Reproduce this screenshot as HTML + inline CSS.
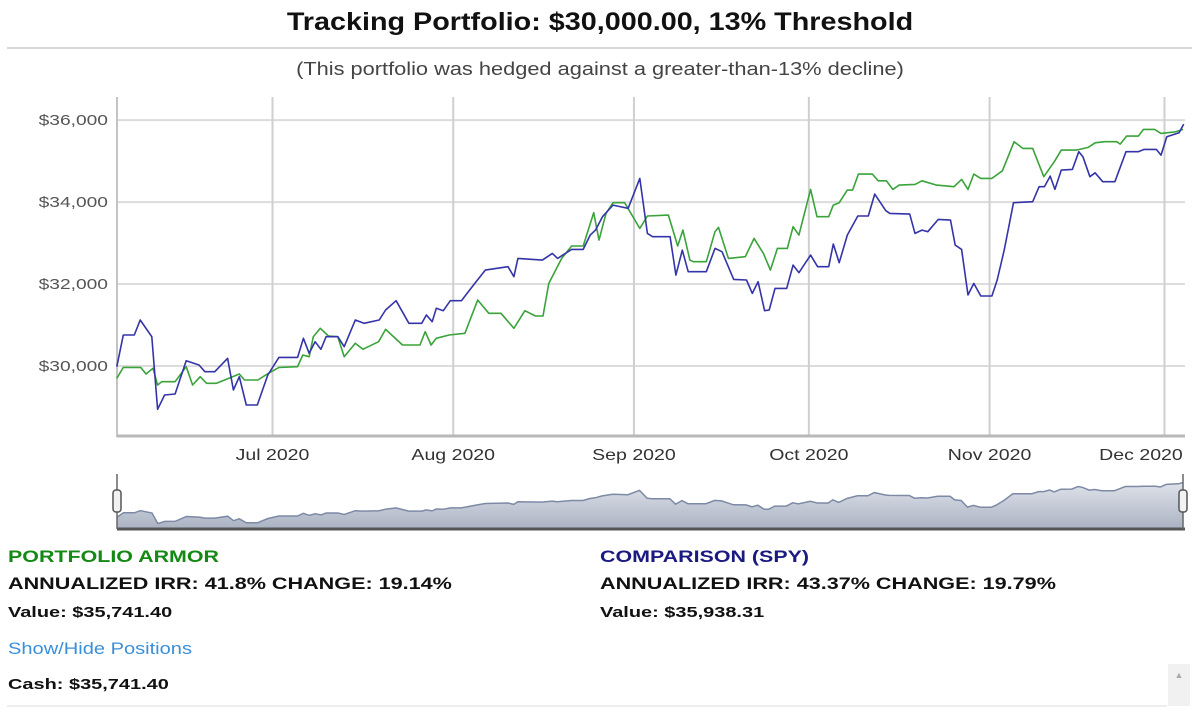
<!DOCTYPE html>
<html><head><meta charset="utf-8">
<style>
body{margin:0;width:1200px;height:709px;background:#fff;font-family:"Liberation Sans",Arial,sans-serif;position:relative;overflow:hidden}
.t{position:absolute;white-space:nowrap;transform-origin:0 0}
.c{transform-origin:50% 0}
</style></head>
<body>
<div class="t c" style="left:0;width:1200px;text-align:center;top:8px;font-size:25px;font-weight:bold;color:#111;transform:scaleX(1.15)">Tracking Portfolio: $30,000.00, 13% Threshold</div>
<div style="position:absolute;left:7px;width:1185px;top:47px;height:2px;background:#d8d8d8"></div>
<div class="t c" style="left:0;width:1200px;text-align:center;top:59px;font-size:18px;color:#444;transform:scaleX(1.21)">(This portfolio was hedged against a greater-than-13% decline)</div>
<svg id="chart" width="1200" height="545" style="position:absolute;left:0;top:0"></svg>
<div class="t" style="left:8px;top:547px;font-size:17px;font-weight:bold;color:#148a14;transform:scaleX(1.26)">PORTFOLIO ARMOR</div>
<div class="t" style="left:8px;top:574px;font-size:17px;font-weight:bold;color:#111;transform:scaleX(1.27)">ANNUALIZED IRR: 41.8% CHANGE: 19.14%</div>
<div class="t" style="left:8px;top:604px;font-size:15px;font-weight:bold;color:#111;transform:scaleX(1.33)">Value: $35,741.40</div>
<div class="t" style="left:600px;top:547px;font-size:17px;font-weight:bold;color:#1a1a80;transform:scaleX(1.26)">COMPARISON (SPY)</div>
<div class="t" style="left:600px;top:574px;font-size:17px;font-weight:bold;color:#111;transform:scaleX(1.27)">ANNUALIZED IRR: 43.37% CHANGE: 19.79%</div>
<div class="t" style="left:600px;top:604px;font-size:15px;font-weight:bold;color:#111;transform:scaleX(1.33)">Value: $35,938.31</div>
<div class="t" style="left:8px;top:639px;font-size:17px;color:#3a8fd8;cursor:pointer;transform:scaleX(1.18)">Show/Hide Positions</div>
<div class="t" style="left:8px;top:676px;font-size:15px;font-weight:bold;color:#111;transform:scaleX(1.33)">Cash: $35,741.40</div>
<div style="position:absolute;left:1168px;top:664px;width:22px;height:42px;background:#f1f1f1"><div style="text-align:center;font-size:9px;color:#aaa;margin-top:6px">▲</div></div>
<div style="position:absolute;left:7px;width:1160px;top:705px;height:2px;background:#eee"></div>
<script>
const tickDays=[30,61,92,122,153,183];
const tickLabels=["Jul 2020","Aug 2020","Sep 2020","Oct 2020","Nov 2020","Dec 2020"];
const yTicks=[30000,32000,34000,36000];
const yTickLabels=["$30,000","$32,000","$34,000","$36,000"];
// days since 2020-06-01
const spyDays=[3.3,4.4,6.3,7.3,9.3,10.3,11.5,13.3,15.2,17.4,18.4,20.1,22.3,23.3,24.3,25.5,27.4,29.2,31.1,34.3,35.3,36.3,37.3,38.3,39.2,41.2,42.3,44.2,45.7,48.3,49.4,51.2,53.4,55.6,56.4,57.4,58.1,59.3,60.5,62.4,64.7,66.5,70.4,71.4,72.1,76.3,78.0,78.9,81.3,83.3,84.5,85.4,86.6,88.4,91.0,93.0,94.3,95.2,98.2,99.2,100.3,101.3,104.4,105.9,107.1,109.1,111.3,112.3,113.3,114.4,115.2,116.2,118.2,119.3,120.3,122.3,123.5,125.4,126.2,127.2,128.6,130.4,132.2,133.3,135.2,135.9,139.3,140.2,141.4,142.4,144.2,146.3,147.1,148.2,149.3,150.3,151.5,153.4,154.3,155.5,157.1,160.4,161.5,162.4,163.4,164.2,165.3,167.2,168.3,169.0,170.2,171.1,172.4,174.5,176.4,178.5,179.5,181.6,182.4,183.4,185.5,186.3];
const spyValues=[29984,30756,30756,31122,30715,28943,29293,29317,30130,30024,29862,29862,30187,29415,29740,29049,29049,29780,30211,30211,30675,30309,30593,30407,30715,30715,30471,31122,31041,31122,31366,31593,31041,31041,31244,31081,31407,31350,31593,31593,32016,32341,32423,32179,32626,32585,32748,32626,32846,32846,33195,33317,33642,33927,33845,34577,33236,33155,33155,32219,32829,32301,32301,32870,32789,32114,32098,31772,32057,31350,31366,31894,31894,32463,32276,32707,32423,32423,32976,32520,33195,33659,33659,34195,33789,33724,33707,33236,33317,33276,33577,33561,32951,32846,31732,32016,31707,31707,32098,32829,33984,34008,34374,34374,34634,34309,34780,34796,35228,35106,34618,34715,34496,34496,35228,35228,35285,35285,35146,35593,35691,35902];
const armorDays=[3.3,4.4,7.4,8.3,9.5,10.3,11.0,13.3,15.2,16.3,17.6,18.7,20.4,24.3,25.2,27.5,29.3,31.1,34.3,35.2,36.3,37.0,38.2,39.6,41.2,42.3,44.2,45.5,48.2,49.4,52.3,55.3,56.2,57.2,58.1,60.3,63.0,65.2,67.1,69.2,71.4,73.3,75.1,76.4,77.4,79.6,81.3,83.3,85.1,86.0,87.2,88.4,90.4,93.0,94.3,97.9,99.5,100.4,101.6,102.2,104.4,105.9,106.5,108.2,111.1,112.6,114.2,115.4,116.6,118.3,119.3,120.3,122.3,123.4,125.4,126.2,127.2,128.6,129.5,130.5,132.9,133.9,135.3,136.4,137.5,140.2,141.4,143.9,146.9,148.2,149.3,150.3,151.5,153.4,155.2,157.2,158.7,160.4,162.3,164.1,165.3,167.9,169.9,171.1,172.7,174.8,175.4,176.5,178.5,179.4,181.3,182.4,184.9,186.2];
const armorValues=[29699,29967,29967,29805,29943,29537,29618,29618,29984,29537,29740,29577,29577,29805,29659,29659,29821,29967,29984,30268,30228,30715,30919,30732,30715,30228,30553,30407,30593,30894,30512,30512,30837,30512,30675,30756,30797,31610,31285,31285,30919,31350,31220,31220,32016,32626,32927,32927,33740,33073,33724,33984,33984,33358,33659,33683,32927,33317,32585,32545,32545,33276,33382,32626,32667,33114,32748,32341,32870,32870,33398,33195,34309,33642,33642,33927,33984,34293,34293,34683,34683,34520,34520,34309,34415,34431,34520,34415,34374,34553,34309,34683,34577,34577,34764,35472,35309,35309,34618,34984,35268,35268,35333,35447,35472,35472,35415,35610,35610,35772,35772,35675,35715,35772];

const NS="http://www.w3.org/2000/svg";
const svg=document.getElementById('chart');
const L=117,R=1185,T=97,B=436;
const x=d=>272.5+(d-30)*5.83;
const y=v=>366-(v-30000)/24.4;
const ny=v=>529-(v-28000)*47/8000;
function mk(tag,attrs){const e=document.createElementNS(NS,tag);for(const k in attrs)e.setAttribute(k,attrs[k]);svg.appendChild(e);return e;}
function stretch(t,k){const w=t.getComputedTextLength();t.setAttribute('textLength',(w*k).toFixed(1));t.setAttribute('lengthAdjust','spacingAndGlyphs');}
yTicks.forEach((v,i)=>{
  const g=mk('line',{x1:L,x2:R,y1:y(v),y2:y(v),stroke:'#dcdcdc','stroke-width':2});
  
  
  const t=mk('text',{x:108,y:y(v)+5,'text-anchor':'end','font-size':15,fill:'#555','font-family':'Liberation Sans, sans-serif'});
  t.textContent=yTickLabels[i];
  
  
  stretch(t,1.28);
});
tickDays.forEach((d,i)=>{
  const g=mk('line',{x1:x(d),x2:x(d),y1:T,y2:B,stroke:'#cfcfcf','stroke-width':2});
  
  
  const t=mk('text',{x:Math.min(x(d),1141),y:460,'text-anchor':'middle','font-size':16,fill:'#333','font-family':'Liberation Sans, sans-serif'});
  t.textContent=tickLabels[i];
  
  
  stretch(t,1.22);
});
const ya=mk('line',{x1:L,x2:L,y1:T,y2:B+1,stroke:'#c4c4c4','stroke-width':2});


const xa=mk('line',{x1:L,x2:R,y1:B,y2:B,stroke:'#b8b8b8','stroke-width':3});


function pts(days,vals,fx,fy){return days.map((d,i)=>fx(d).toFixed(1)+','+fy(vals[i]).toFixed(1)).join(' ');}
const ga=mk('polyline',{points:pts(armorDays,armorValues,x,y),fill:'none',stroke:'#3aa33a','stroke-width':1.6,'stroke-linejoin':'round'});


const bl=mk('polyline',{points:pts(spyDays,spyValues,x,y),fill:'none',stroke:'#3434a8','stroke-width':1.6,'stroke-linejoin':'round'});


// navigator
const defs=mk('defs',{});
defs.innerHTML='<linearGradient id="ng" x1="0" y1="0" x2="0" y2="1"><stop offset="0" stop-color="#dfe3ea"/><stop offset="1" stop-color="#aab2c2"/></linearGradient>';
const nx=d=>117+(d-3.3)*(1183-117)/(186.3-3.3);
const area=mk('polygon',{points:nx(spyDays[0])+',529 '+pts(spyDays,spyValues,nx,ny)+' '+nx(spyDays[spyDays.length-1])+',529',fill:'url(#ng)',stroke:'none'});


const nl=mk('polyline',{points:pts(spyDays,spyValues,nx,ny),fill:'none',stroke:'#7d8aa6','stroke-width':1.5});


const nb=mk('line',{x1:117,x2:1185,y1:529,y2:529,stroke:'#555','stroke-width':3});


[117,1183].forEach((hx,i)=>{
  const l=mk('line',{x1:hx,x2:hx,y1:474,y2:529,stroke:'#666','stroke-width':1.5});
  
  
  const h=mk('rect',{x:hx-4,y:490,width:8,height:22,rx:3,fill:'#f2f2f2',stroke:'#555','stroke-width':1.5});
  
  
});
</script>
</body></html>
